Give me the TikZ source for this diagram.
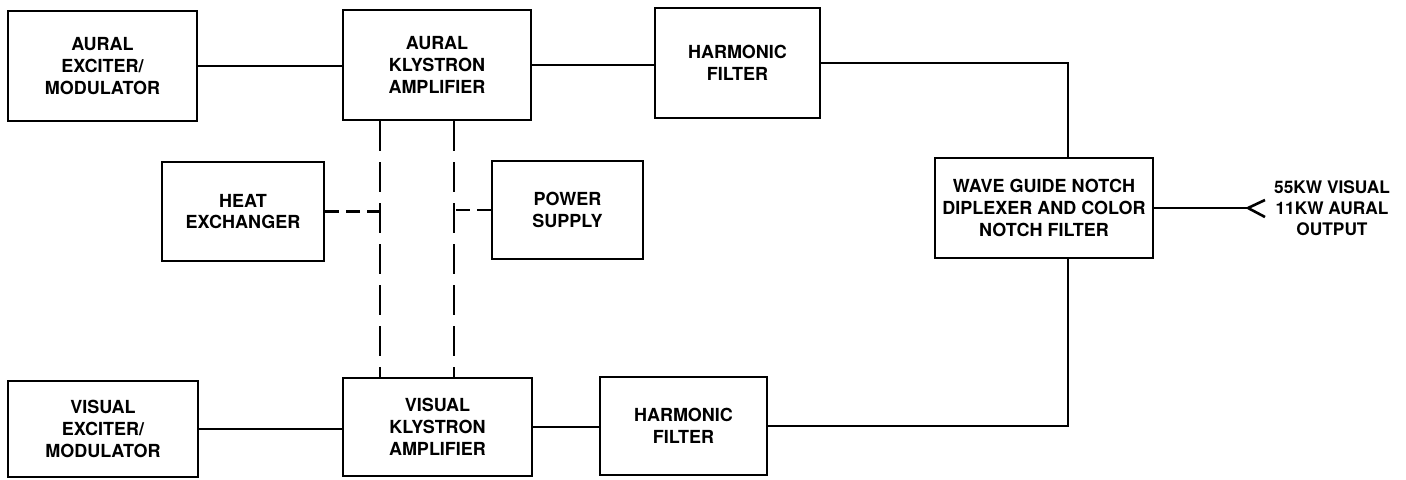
\documentclass[tikz,border=0pt]{standalone}
\usepackage{fontspec}
\setmainfont{TeX Gyre Heros}
\usetikzlibrary{calc}

\begin{document}
\begin{tikzpicture}[x=0.25mm,y=-0.25mm,
        blk/.style={draw,line width=0.65mm,align=center,inner sep=0pt,
            font=\bfseries\fontsize{12.8}{15.5}\selectfont},
        link/.style={line width=0.65mm},
        dline/.style={line width=0.6mm,dash pattern=on 7.5mm off 2.75mm},
        sdline/.style={line width=0.6mm,dash pattern=on 3.5mm off 1.75mm}]
        \useasboundingbox (0,0) rectangle (1406,480);

        % Aural chain
        \node[blk,minimum width=47.25mm,minimum height=27.5mm] (aex) at (102.5,66) {AURAL\\EXCITER/\\MODULATOR};
        \node[blk,minimum width=47mm,minimum height=27.5mm] (akl) at (437,65) {AURAL\\KLYSTRON\\AMPLIFIER};
        \node[blk,minimum width=41.25mm,minimum height=27.5mm] (ahf) at (737.5,63) {HARMONIC\\FILTER};

        % Auxiliaries
        \node[blk,minimum width=40.5mm,minimum height=24.75mm] (heat) at (243,211.5) {HEAT\\EXCHANGER};
        \node[blk,minimum width=37.75mm,minimum height=24.5mm] (pwr) at (567.5,210) {POWER\\SUPPLY};

        % Diplexer and output
        \node[blk,minimum width=54.5mm,minimum height=25mm] (wg) at (1044,208) {WAVE GUIDE NOTCH\\DIPLEXER AND COLOR\\NOTCH FILTER};
        \coordinate (tip) at (1248,208);
        \node[align=center,inner sep=0pt,font=\bfseries\fontsize{12.3}{15}\selectfont] (out) at (1332,208) {55KW VISUAL\\11KW AURAL\\OUTPUT};

        % Visual chain
        \node[blk,minimum width=47.5mm,minimum height=24mm] (vex) at (103,429) {VISUAL\\EXCITER/\\MODULATOR};
        \node[blk,minimum width=47.25mm,minimum height=24.5mm] (vkl) at (437.5,427) {VISUAL\\KLYSTRON\\AMPLIFIER};
        \node[blk,minimum width=41.75mm,minimum height=24.5mm] (vhf) at (683.5,426) {HARMONIC\\FILTER};

        % Signal paths
        \draw[link] (aex.east) -- (aex.east -| akl.west);
        \draw[link] (akl.east) -- (akl.east -| ahf.west);
        \draw[link] (ahf.east) -| ([xshift=6mm]wg.north);
        \draw[link] (vex.east) -- (vex.east -| vkl.west);
        \draw[link] (vkl.east) -- (vkl.east -| vhf.west);
        \draw[link] (vhf.east) -| ([xshift=6mm]wg.south);
        \draw[link] (wg.east) -- (tip);
        \draw[link] (tip) -- ++(17,-8);
        \draw[link] (tip) -- ++(17,9);

        % Cooling and supply lines
        \coordinate (hl) at (380,0);
        \coordinate (hr) at (454,0);
        \draw[dline] (akl.south -| hl) -- (vkl.north -| hl);
        \draw[dline] (akl.south -| hr) -- (vkl.north -| hr);
        \draw[sdline] (heat.east) -- (heat.east -| hl);
        \draw[sdline] (pwr.west) -- (pwr.west -| hr);
    \end{tikzpicture}
\end{document}
